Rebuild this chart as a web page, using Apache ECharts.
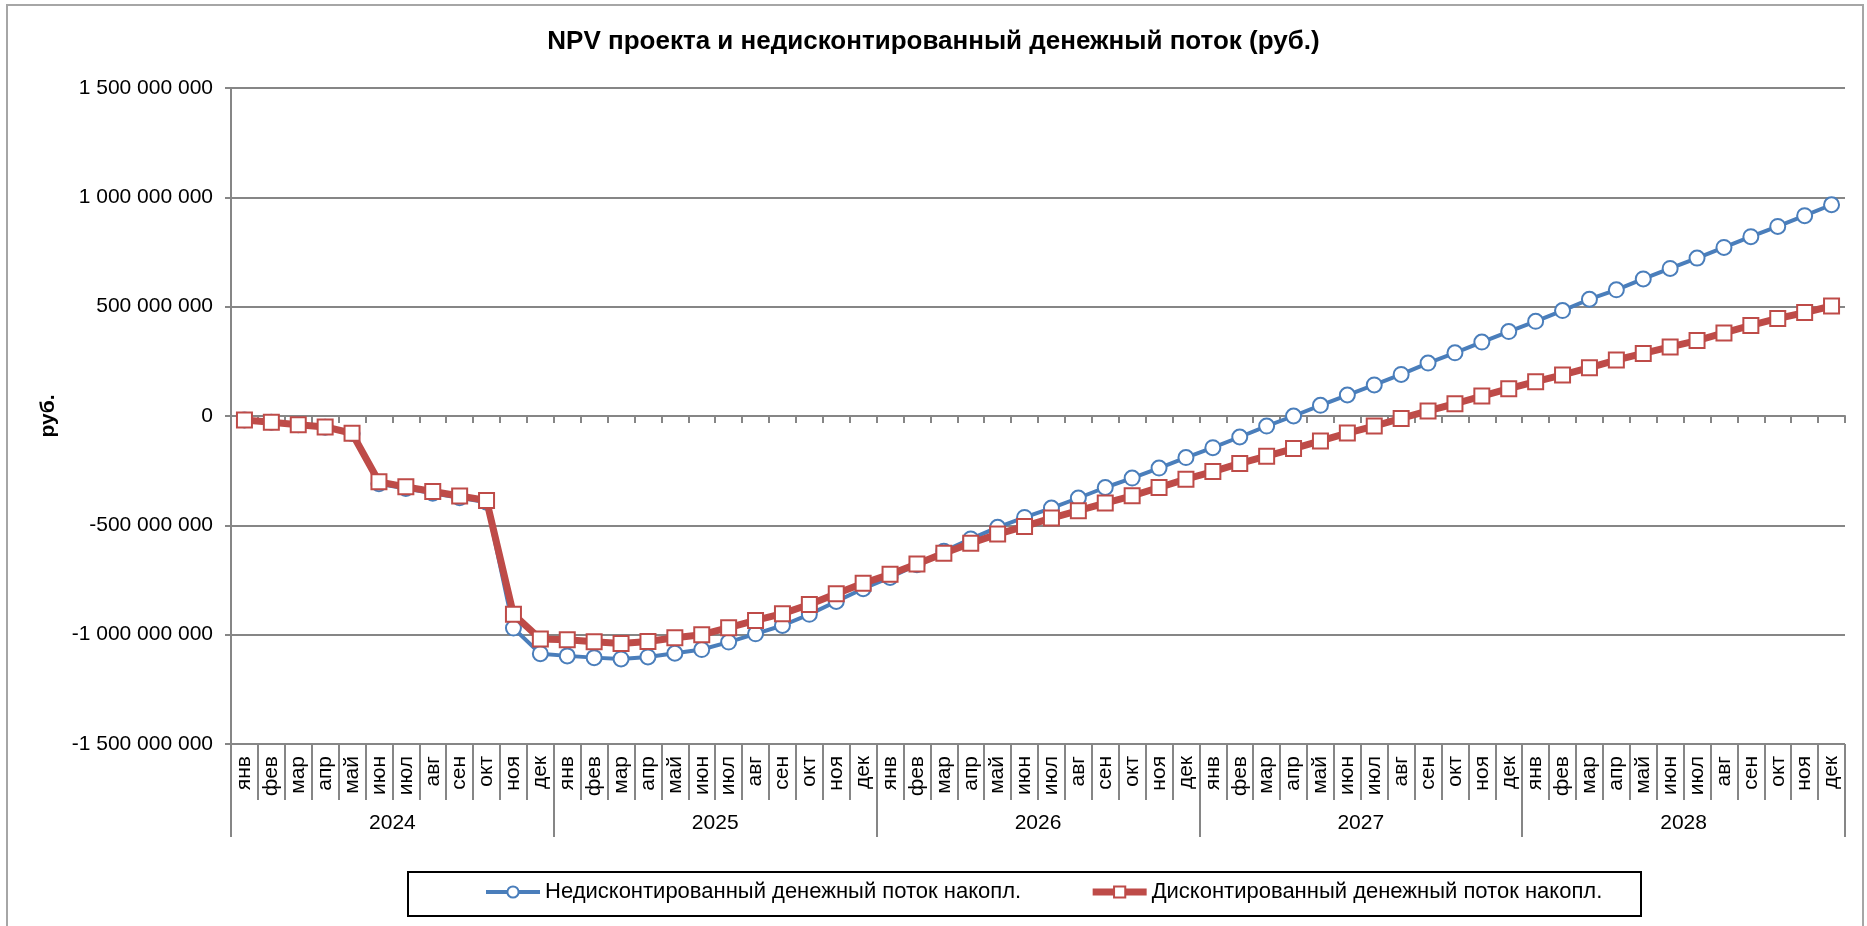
<!DOCTYPE html>
<html lang="ru">
<head>
    <meta charset="UTF-8">
    <title>NPV проекта</title>
    <script src="https://cdn.jsdelivr.net/npm/echarts@6/dist/echarts.min.js"></script>
</head>
<body style="margin:0;background:#fff;">

    <div id="main" style="width:1867px; height:926px;"></div>

    <script>
        // данные в млн руб.
        var years = ['2024', '2025', '2026', '2027', '2028'];
        var months = ['янв', 'фев', 'мар', 'апр', 'май', 'июн', 'июл', 'авг', 'сен', 'окт', 'ноя', 'дек'];

        var undiscounted = [
            -18, -29, -40, -51, -80, -310, -332, -353, -374, -394, -970, -1087,
            -1097, -1105, -1111, -1102, -1085, -1068, -1034, -996, -958, -907, -848, -790,
            -738, -680, -619, -562, -509, -464, -421, -375, -327, -284, -238, -190,
            -145, -96, -46, 0, 49, 96, 142, 190, 242, 289, 338, 386,
            433, 482, 534, 577, 627, 675, 722, 771, 820, 867, 916, 966
        ];
        var discounted = [
            -18, -29, -40, -50, -79, -301, -324, -345, -366, -386, -907, -1020,
            -1023, -1032, -1040, -1031, -1014, -1000, -968, -935, -904, -862, -813, -765,
            -724, -677, -628, -582, -540, -505, -467, -433, -398, -365, -327, -289,
            -254, -217, -184, -149, -114, -78, -46, -11, 23, 56, 91, 125,
            157, 188, 221, 256, 286, 316, 345, 380, 414, 446, 473, 503
        ];

        var monthLabels = [];
        years.forEach(function () {
            months.forEach(function (m) { monthLabels.push(m); });
        });

        var font = 'Liberation Sans';
        var gridColor = '#868686';
        var blue = '#4A7EBB';
        var red = '#BE4B48';

        function fmt(v) {
            var s = Math.abs(Math.round(v * 1e6)).toString().replace(/\B(?=(\d{3})+(?!\d))/g, ' ');
            return (v < 0 ? '-' : '') + s;
        }

        var chart = echarts.init(document.getElementById('main'));

        var option = {
            animation: false,
            backgroundColor: '#fff',
            title: {
                text: 'NPV проекта и недисконтированный денежный поток (руб.)',
                left: 'center',
                top: 24,
                textStyle: { fontFamily: font, fontSize: 26, fontWeight: 'bold', color: '#000' }
            },
            graphic: [
                {
                    type: 'rect', z: -10,
                    shape: { x: 7, y: 5, width: 1856, height: 960 },
                    style: { fill: '#fff', stroke: '#a6a6a6', lineWidth: 2 }
                },
                {
                    type: 'rect', z: 1,
                    shape: { x: 408, y: 872, width: 1233, height: 44 },
                    style: { fill: '#fff', stroke: '#000', lineWidth: 2 }
                }
            ],
            legend: {
                left: 484,
                top: 881,
                padding: 0,
                itemWidth: 54,
                itemHeight: 14,
                itemGap: 68,
                z: 10,
                textStyle: { fontFamily: font, fontSize: 22, color: '#000' },
                data: [
                    {
                        name: 'Недисконтированный денежный поток накопл.',
                        lineStyle: { color: blue, width: 4 },
                        itemStyle: { color: '#fff', borderColor: blue, borderWidth: 2 }
                    },
                    {
                        name: 'Дисконтированный денежный поток накопл.',
                        lineStyle: { color: red, width: 7 },
                        itemStyle: { color: '#fff', borderColor: red, borderWidth: 2 }
                    }
                ]
            },
            grid: { left: 231, right: 22, top: 88, bottom: 182 },
            xAxis: [
                {
                    type: 'category',
                    data: monthLabels,
                    boundaryGap: true,
                    axisLine: { onZero: true, lineStyle: { color: gridColor, width: 2 } },
                    axisTick: { show: true, interval: 0, length: 7, lineStyle: { color: gridColor, width: 2 } },
                    axisLabel: { show: false },
                    splitLine: { show: false }
                },
                {
                    type: 'category',
                    data: monthLabels,
                    position: 'bottom',
                    boundaryGap: true,
                    axisLine: { show: false, onZero: false },
                    axisTick: { show: true, interval: 0, length: 56, lineStyle: { color: gridColor, width: 2 } },
                    axisLabel: {
                        interval: 0, rotate: 90, margin: 12,
                        fontFamily: font, fontSize: 21, color: '#000'
                    },
                    splitLine: { show: false }
                },
                {
                    type: 'category',
                    data: years,
                    position: 'bottom',
                    offset: 56,
                    boundaryGap: true,
                    axisLine: { show: false, onZero: false },
                    axisTick: { show: true, interval: 0, length: 37, lineStyle: { color: gridColor, width: 2 } },
                    axisLabel: {
                        interval: 0, margin: 13,
                        fontFamily: font, fontSize: 21, color: '#000'
                    },
                    splitLine: { show: false }
                }
            ],
            yAxis: {
                type: 'value',
                min: -1500,
                max: 1500,
                interval: 500,
                name: 'руб.',
                nameLocation: 'middle',
                nameRotate: 90,
                nameGap: 172,
                nameTextStyle: { fontFamily: font, fontSize: 21, fontWeight: 'bold', color: '#000' },
                axisLine: { show: true, lineStyle: { color: gridColor, width: 2 } },
                axisTick: { show: true, length: 6, lineStyle: { color: gridColor, width: 2 } },
                axisLabel: { margin: 18, fontFamily: font, fontSize: 21, color: '#000', formatter: fmt },
                splitLine: { show: true, lineStyle: { color: gridColor, width: 2 } }
            },
            series: [
                {
                    name: 'Недисконтированный денежный поток накопл.',
                    type: 'line',
                    xAxisIndex: 0,
                    data: undiscounted,
                    symbol: 'circle',
                    symbolSize: 15,
                    lineStyle: { color: blue, width: 4 },
                    itemStyle: { color: '#fff', borderColor: blue, borderWidth: 2 },
                    z: 3
                },
                {
                    name: 'Дисконтированный денежный поток накопл.',
                    type: 'line',
                    xAxisIndex: 0,
                    data: discounted,
                    symbol: 'rect',
                    symbolSize: 15,
                    lineStyle: { color: red, width: 7 },
                    itemStyle: { color: '#fff', borderColor: red, borderWidth: 2 },
                    z: 4
                }
            ]
        };

        chart.setOption(option);
    </script>
</body>
</html>
